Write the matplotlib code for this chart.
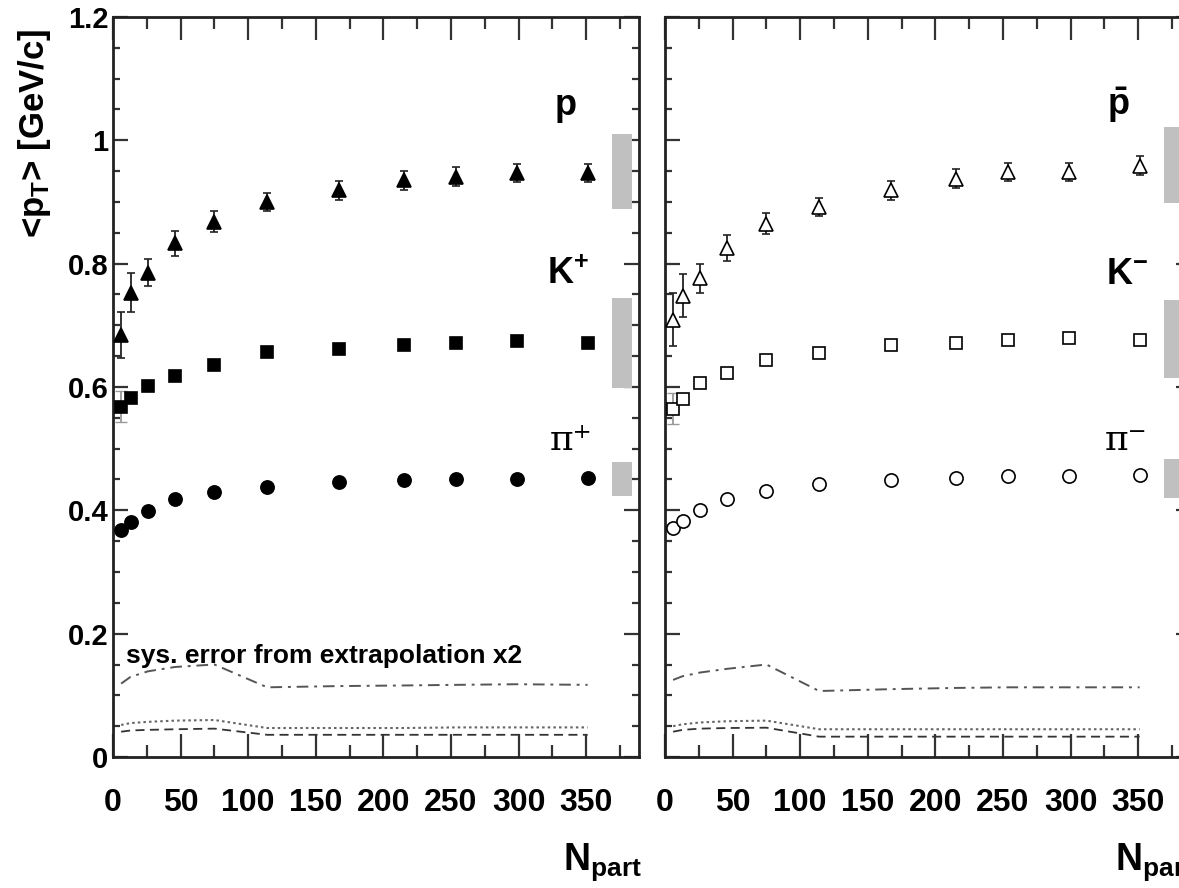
import numpy as np
import matplotlib
matplotlib.use("Agg")
import matplotlib.pyplot as plt
from matplotlib.ticker import MultipleLocator, FixedLocator, FixedFormatter

plt.rcParams["font.family"] = ["Liberation Sans", "DejaVu Sans"]
plt.rcParams["font.weight"] = "bold"
plt.rcParams["mathtext.fontset"] = "custom"
plt.rcParams["mathtext.rm"] = "Liberation Sans:bold"
plt.rcParams["mathtext.it"] = "Liberation Sans:bold"
plt.rcParams["mathtext.bf"] = "Liberation Sans:bold"

# centrality bins (N_part)
npart = [6, 13, 26, 46, 75, 114, 167, 215, 254, 299, 351]

# <pT> positive particles (left panel)
p_plus = [0.684, 0.753, 0.785, 0.833, 0.868, 0.900, 0.919, 0.935, 0.941, 0.947, 0.947]
p_plus_err = [0.037, 0.032, 0.022, 0.020, 0.017, 0.015, 0.015, 0.015, 0.015, 0.015, 0.015]
k_plus = [0.568, 0.582, 0.602, 0.618, 0.636, 0.656, 0.662, 0.668, 0.671, 0.674, 0.671]
pi_plus = [0.368, 0.381, 0.399, 0.418, 0.429, 0.438, 0.446, 0.449, 0.450, 0.451, 0.452]

# <pT> negative particles (right panel)
p_minus = [0.709, 0.748, 0.776, 0.825, 0.865, 0.892, 0.919, 0.938, 0.949, 0.949, 0.959]
p_minus_err = [0.043, 0.035, 0.023, 0.021, 0.017, 0.014, 0.015, 0.015, 0.015, 0.015, 0.015]
k_minus = [0.565, 0.580, 0.606, 0.622, 0.644, 0.655, 0.668, 0.671, 0.677, 0.679, 0.677]
pi_minus = [0.371, 0.383, 0.400, 0.418, 0.431, 0.442, 0.449, 0.452, 0.455, 0.455, 0.457]

# kaon error at most peripheral bin (drawn in gray)
k_first_err = 0.025

# systematic bands (low, high) drawn as gray boxes on the right
sys_plus = {"p": (0.888, 1.011), "K": (0.598, 0.745), "pi": (0.423, 0.479)}
sys_minus = {"p": (0.898, 1.022), "K": (0.614, 0.741), "pi": (0.420, 0.484)}

# sys. error from extrapolation x2
ext_p_plus = [0.119, 0.130, 0.139, 0.146, 0.150, 0.113, 0.115, 0.116, 0.117, 0.118, 0.117]
ext_k_plus = [0.052, 0.055, 0.057, 0.059, 0.060, 0.047, 0.047, 0.047, 0.048, 0.048, 0.048]
ext_pi_plus = [0.041, 0.043, 0.044, 0.045, 0.046, 0.036, 0.036, 0.036, 0.036, 0.036, 0.036]
ext_p_minus = [0.125, 0.131, 0.137, 0.143, 0.150, 0.107, 0.110, 0.112, 0.113, 0.113, 0.113]
ext_k_minus = [0.050, 0.053, 0.056, 0.058, 0.059, 0.045, 0.045, 0.045, 0.045, 0.045, 0.045]
ext_pi_minus = [0.041, 0.044, 0.046, 0.047, 0.0475, 0.033, 0.033, 0.033, 0.033, 0.033, 0.033]

y_ticks = [0, 0.2, 0.4, 0.6, 0.8, 1.0, 1.2]
y_labels = ["0", "0.2", "0.4", "0.6", "0.8", "1", "1.2"]
x_ticks = [0, 50, 100, 150, 200, 250, 300, 350]

W, H = 1179, 888
fig = plt.figure(figsize=(W / 100, H / 100), dpi=100)
axL = fig.add_axes([113 / W, 131 / H, 526 / W, 740 / H])
axR = fig.add_axes([665 / W, 131 / H, 526 / W, 740 / H])


def style_axes(ax, show_ylabels):
    ax.set_xlim(0, 389)
    ax.set_ylim(0, 1.2)
    ax.xaxis.set_major_locator(FixedLocator(x_ticks))
    ax.xaxis.set_minor_locator(MultipleLocator(25))
    ax.yaxis.set_major_locator(FixedLocator(y_ticks))
    ax.yaxis.set_minor_locator(MultipleLocator(0.05))
    ax.tick_params(which="both", direction="in", top=True, right=True,
                   width=1.6, color="#333333")
    ax.tick_params(axis="x", which="major", length=16.5, pad=22, labelsize=23)
    ax.tick_params(axis="x", which="minor", length=8.5)
    ax.tick_params(axis="y", which="major", length=10.8, pad=3.5, labelsize=21)
    ax.tick_params(axis="y", which="minor", length=5)
    if show_ylabels:
        ax.yaxis.set_major_formatter(FixedFormatter(y_labels))
    else:
        ax.set_yticklabels([])
    for lab in ax.get_xticklabels() + ax.get_yticklabels():
        lab.set_fontweight("bold")
    for sp in ax.spines.values():
        sp.set_linewidth(2)
        sp.set_color("#222222")


def draw_panel(ax, p, p_err, k, pi, sysb, e_p, e_k, e_pi, filled):
    fc = "black" if filled else "white"
    ax.errorbar(npart, p, yerr=p_err, fmt="^", ms=10, mfc=fc, mec="black",
                mew=1.2, ecolor="#222222", elinewidth=1.3, capsize=3, capthick=1.3,
                zorder=4)
    ax.errorbar(npart[:1], k[:1], yerr=k_first_err, fmt="none", ecolor="#999999",
                elinewidth=1.3, capsize=4, zorder=3)
    ax.plot(npart, k, "s", ms=9, mfc=fc, mec="black", mew=1.2, zorder=4)
    ax.plot(npart, pi, "o", ms=9.5, mfc=fc, mec="black", mew=1.2, zorder=4)

    for lo, hi in sysb.values():
        ax.bar(376.5, hi - lo, width=15, bottom=lo, color="#c0c0c0", zorder=2)

    ax.plot(npart, e_p, color="#555555", lw=1.4, dashes=(6, 3, 1.5, 3))
    ax.plot(npart, e_k, color="#666666", lw=1.5, dashes=(1.2, 1.5))
    ax.plot(npart, e_pi, color="#333333", lw=1.3, dashes=(5, 3))


draw_panel(axL, p_plus, p_plus_err, k_plus, pi_plus, sys_plus,
           ext_p_plus, ext_k_plus, ext_pi_plus, True)
draw_panel(axR, p_minus, p_minus_err, k_minus, pi_minus, sys_minus,
           ext_p_minus, ext_k_minus, ext_pi_minus, False)

style_axes(axL, True)
style_axes(axR, False)

# species labels
axL.text(335, 1.041, "p", ha="center", va="baseline", fontsize=26)
axL.text(321, 0.767, r"K$^{+}$", ha="left", va="baseline", fontsize=26)
axL.text(323, 0.498, "π⁺", ha="left", va="baseline", fontsize=26,
         family="DejaVu Serif", fontweight="normal")
axR.text(335, 1.041, r"$\bar{\mathrm{p}}$", ha="center", va="baseline", fontsize=26)
axR.text(326, 0.767, r"K$^{-}$", ha="left", va="baseline", fontsize=26)
axR.text(325, 0.498, "π⁻", ha="left", va="baseline", fontsize=26,
         family="DejaVu Serif", fontweight="normal")

axL.text(9.6, 0.152, "sys. error from extrapolation x2", ha="left",
         va="baseline", fontsize=19)

for ax in (axL, axR):
    ax.text(450 / 526, -(870 - 757) / 740, r"N$_{\mathrm{part}}$", ha="left",
            va="baseline", fontsize=27, transform=ax.transAxes)

fig.text(35 / W, 1 - 133 / H, r"<p$_{\mathrm{T}}$> [GeV/c]", rotation=90,
         ha="center", va="center", fontsize=25)

fig.savefig("out.png", dpi=100)
